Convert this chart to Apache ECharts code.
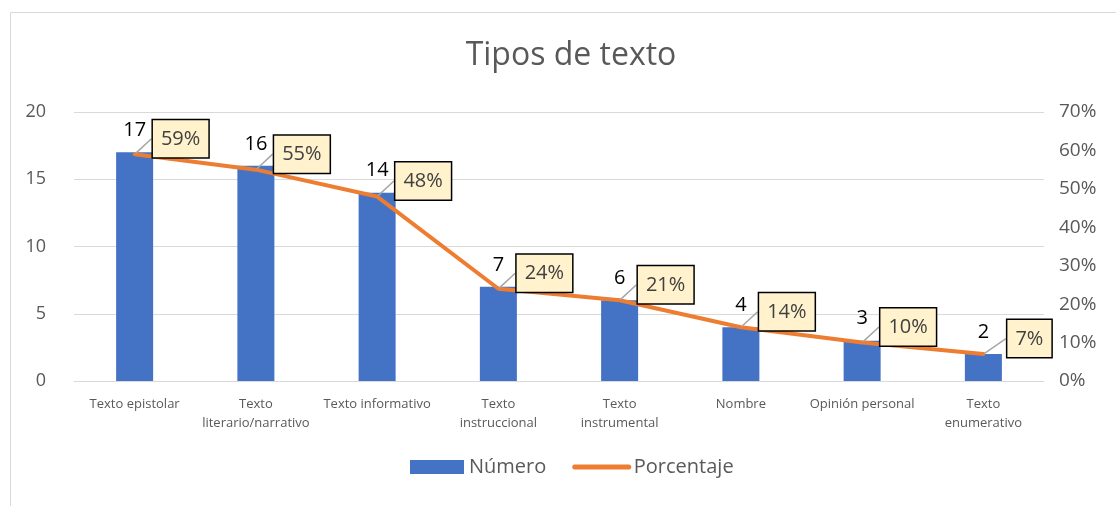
<!DOCTYPE html>
<html>
<head>
<meta charset="utf-8">
<script src="https://cdn.jsdelivr.net/npm/echarts@6/dist/echarts.min.js"></script>
<style>
  html, body { margin: 0; padding: 0; background: #fff; }
  #chart { width: 1116px; height: 506px; }
</style>
</head>
<body>
<div id="chart"></div>
<script>
// datos
const categorias = [
  "Texto epistolar",
  "Texto\nliterario/narrativo",
  "Texto informativo",
  "Texto\ninstruccional",
  "Texto\ninstrumental",
  "Nombre",
  "Opinión personal",
  "Texto\nenumerativo"
];
const numero = [17, 16, 14, 7, 6, 4, 3, 2];
const porcentaje = [59, 55, 48, 24, 21, 14, 10, 7];

const gris = "#595959";
const fuente = "Open Sans";

let myChart = echarts.init(document.getElementById("chart"));
myChart.setOption({
  textStyle: { fontFamily: fuente },
  title: {
    text: "Tipos de texto",
    left: 566,
    textAlign: "center",
    top: 35,
    textStyle: { fontSize: 32, fontWeight: "normal", color: gris, fontFamily: fuente }
  },
  // marco del grafico
  graphic: [
    {
      type: "rect",
      shape: { x: 10.5, y: 12.5, width: 1200, height: 600 },
      style: { fill: null, stroke: "#D9D9D9", lineWidth: 1 },
      silent: true
    }
  ],
  legend: {
    bottom: 24,
    left: 405,
    itemGap: 26,
    textStyle: { fontSize: 20, color: gris },
    data: [
      { name: "Número", icon: "rect", itemStyle: { color: "#4472C4" } },
      {
        name: "Porcentaje",
        itemStyle: { opacity: 0 },
        lineStyle: { color: "#ED7D31", width: 5, cap: "round" }
      }
    ],
    itemWidth: 54,
    itemHeight: 14
  },
  grid: { left: 74, right: 72, top: 112, bottom: 125 },
  xAxis: {
    type: "category",
    data: categorias,
    axisTick: { show: false },
    axisLine: { lineStyle: { color: "#D9D9D9", width: 1 } },
    axisLabel: { interval: 0, fontSize: 13, color: gris, margin: 14, lineHeight: 19 }
  },
  yAxis: [
    {
      type: "value",
      min: 0,
      max: 20,
      interval: 5,
      axisLine: { show: false },
      axisTick: { show: false },
      splitLine: { lineStyle: { color: "#D9D9D9", width: 1 } },
      axisLabel: { fontSize: 18, color: gris, margin: 28 }
    },
    {
      type: "value",
      min: 0,
      max: 70,
      interval: 10,
      position: "right",
      axisLine: { show: false },
      axisTick: { show: false },
      splitLine: { show: false },
      axisLabel: { fontSize: 19, color: gris, margin: 15, formatter: "{value}%" }
    }
  ],
  series: [
    {
      name: "Número",
      type: "bar",
      data: numero,
      barWidth: 37,
      itemStyle: { color: "#4472C4" },
      label: {
        show: true,
        position: "top",
        distance: 12,
        fontSize: 20,
        color: "#000"
      }
    },
    {
      name: "Porcentaje",
      type: "line",
      yAxisIndex: 1,
      data: porcentaje,
      symbol: "circle",
      symbolSize: 2,
      showSymbol: true,
      lineStyle: { color: "#ED7D31", width: 4, cap: "round" },
      itemStyle: { color: "#ED7D31" },
      z: 5,
      label: {
        show: true,
        position: "top",
        formatter: "{c}%",
        fontSize: 20,
        color: "#404040",
        backgroundColor: "#FFF2CC",
        borderColor: "#000",
        borderWidth: 1.5,
        padding: [9, 8, 8, 8]
      },
      labelLayout: { dx: 46, dy: 9 },
      labelLine: { show: true, lineStyle: { color: "#A6A6A6", width: 1.5 } }
    }
  ]
});
window.addEventListener("resize", () => {
  myChart.resize();
});
</script>
</body>
</html>
